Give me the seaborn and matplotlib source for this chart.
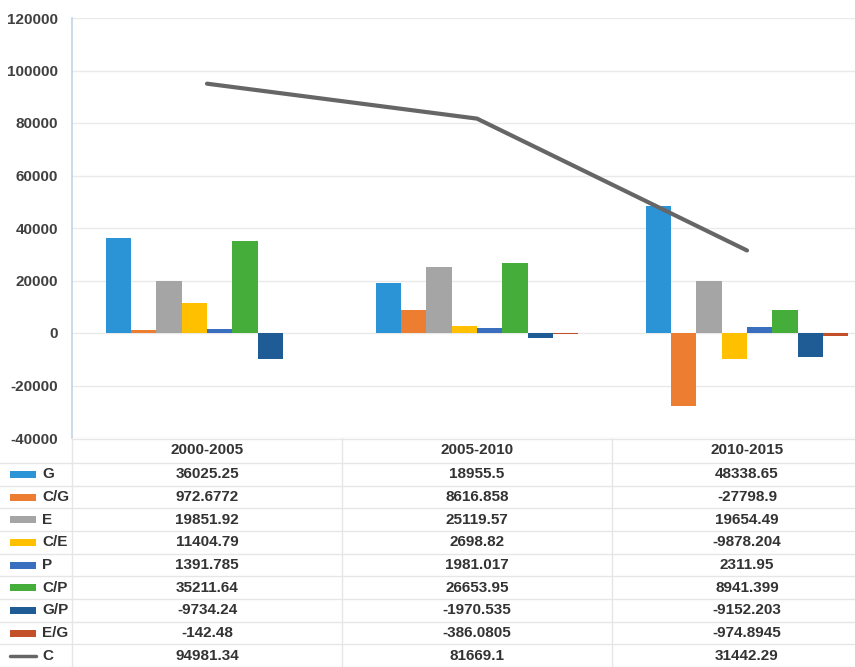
import matplotlib
matplotlib.use("Agg")
import matplotlib.pyplot as plt
import seaborn as sns
import numpy as np
import pandas as pd

periods = ["2000-2005", "2005-2010", "2010-2015"]
series = ["G", "C/G", "E", "C/E", "P", "C/P", "G/P", "E/G"]
G = [36025.25, 18955.5, 48338.65]
CG = [972.6772, 8616.858, -27798.9]
E = [19851.92, 25119.57, 19654.49]
CE = [11404.79, 2698.82, -9878.204]
P = [1391.785, 1981.017, 2311.95]
CP = [35211.64, 26653.95, 8941.399]
GP = [-9734.24, -1970.535, -9152.203]
EG = [-142.48, -386.0805, -974.8945]
C = [94981.34, 81669.1, 31442.29]
G_txt = ["36025.25", "18955.5", "48338.65"]
CG_txt = ["972.6772", "8616.858", "-27798.9"]
E_txt = ["19851.92", "25119.57", "19654.49"]
CE_txt = ["11404.79", "2698.82", "-9878.204"]
P_txt = ["1391.785", "1981.017", "2311.95"]
CP_txt = ["35211.64", "26653.95", "8941.399"]
GP_txt = ["-9734.24", "-1970.535", "-9152.203"]
EG_txt = ["-142.48", "-386.0805", "-974.8945"]
C_txt = ["94981.34", "81669.1", "31442.29"]
yticks = [-40000, -20000, 0, 20000, 40000, 60000, 80000, 100000, 120000]

colors = ["#2A94D6", "#ED7D31", "#A5A5A5", "#FFC000", "#3A6FC0", "#45AE3A", "#1F5C96", "#C4502A"]
line_color = "#666666"

values = [G, CG, E, CE, P, CP, GP, EG]
texts = [G_txt, CG_txt, E_txt, CE_txt, P_txt, CP_txt, GP_txt, EG_txt]

rows = []
for s, vals in zip(series, values):
    for p, v in zip(periods, vals):
        rows.append({"period": p, "series": s, "value": v})
df = pd.DataFrame(rows)

sns.set_theme(style="white")
plt.rcParams['font.family'] = ['Liberation Sans', 'DejaVu Sans']

W, H = 855, 667
fig = plt.figure(figsize=(W / 100, H / 100), dpi=100)

left_px, top_px, bot_px = 72, 18, 438
group_px = 270
ax = fig.add_axes([left_px / W, 1 - bot_px / H, 3 * group_px / W, (bot_px - top_px) / H])

sns.barplot(data=df, x="period", y="value", hue="series", hue_order=series,
            palette=colors, width=0.75, saturation=1, legend=False, ax=ax,
            linewidth=0, zorder=2)
sns.lineplot(x=np.arange(len(periods)), y=C, color=line_color, linewidth=3, ax=ax, zorder=3)

ax.set_xlim(-0.5, 2.5)
ax.set_ylim(-40000, 120000)
ax.set_yticks(yticks)
ax.set_yticklabels([str(t) for t in yticks], fontsize=11, fontweight="bold", color="#404040")
ax.tick_params(axis="y", length=0, pad=10)
ax.set_xticks([])
ax.set_xlabel("")
ax.set_ylabel("")
ax.grid(axis="y", color="#EAEAEA", linewidth=1, zorder=0)
ax.set_axisbelow(True)
for sp in ["top", "right", "bottom"]:
    ax.spines[sp].set_visible(False)
ax.spines["left"].set_color("#BFD3E6")
ax.spines["left"].set_linewidth(1.2)

# data table
tax = fig.add_axes([0, 0, 1, (H - bot_px) / H])
tax.set_xlim(0, W)
tax.set_ylim(H, bot_px)
tax.axis("off")

header_h = 25
row_h = (H - bot_px - header_h) / 9
line_kw = dict(color="#E6E6E6", linewidth=1)
tax.plot([left_px, W], [bot_px + 1, bot_px + 1], **line_kw)
for i in range(10):
    y = bot_px + header_h + i * row_h
    tax.plot([0, W], [y, y], **line_kw)
for j in range(3):
    x = left_px + j * group_px
    tax.plot([x, x], [bot_px, H], **line_kw)

txt_kw = dict(fontsize=11, fontweight="bold", color="#333333", va="center")
for j, p in enumerate(periods):
    tax.text(left_px + group_px * (j + 0.5), bot_px + header_h / 2, p, ha="center", **txt_kw)

all_labels = series + ["C"]
all_texts = texts + [C_txt]
for i, (lab, tv) in enumerate(zip(all_labels, all_texts)):
    yc = bot_px + header_h + (i + 0.5) * row_h
    if lab == "C":
        tax.plot([10, 36], [yc, yc], color=line_color, linewidth=2.5)
    else:
        tax.add_patch(plt.Rectangle((10, yc - 3.5), 26, 7, color=colors[i], lw=0))
    tax.text(42, yc, lab, ha="left", **txt_kw)
    for j, t in enumerate(tv):
        tax.text(left_px + group_px * (j + 0.5), yc, t, ha="center", **txt_kw)

fig.savefig("out.png", dpi=100)
